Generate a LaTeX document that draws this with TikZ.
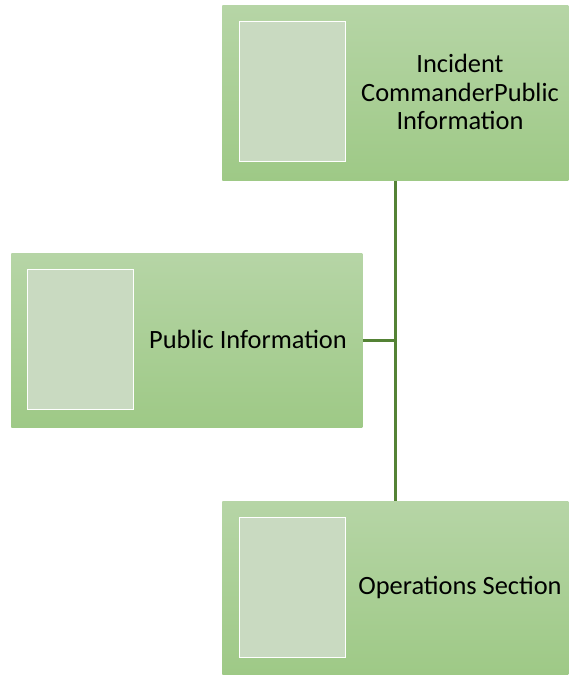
\documentclass[tikz,border=0pt]{standalone}
\usepackage{fontspec}
\setmainfont{Carlito}
\usetikzlibrary{positioning}
\definecolor{boxtop}{RGB}{182,213,166}
\definecolor{boxbot}{RGB}{158,201,134}
\definecolor{picfill}{RGB}{201,218,193}
\definecolor{linkgreen}{RGB}{84,130,53}
\begin{document}
\begin{tikzpicture}[x=0.75pt,y=-0.75pt]
			\tikzstyle{every node}=[font=\fontsize{19.8}{21.5}\selectfont]
			\tikzstyle{unit}=[rectangle, anchor=north west, inner sep=0pt, top color=boxtop, bottom color=boxbot, draw=none, minimum height=130.5pt]
			\tikzstyle{photo}=[rectangle, anchor=north west, inner sep=0pt, fill=picfill, draw=white, line width=1pt, minimum width=79.5pt, minimum height=105pt]
			\tikzstyle{link}=[draw=linkgreen, line width=2pt]
			\useasboundingbox (0,0) rectangle (568,675);
			% boxes
			\node [unit, minimum width=259.5pt, minimum height=131.25pt] (ic) at (222,5) {};
			\node [unit, minimum width=263.25pt] (pi) at (11,253) {};
			\node [unit, minimum width=259.5pt] (ops) at (222,501) {};
			% picture placeholders
			\node [photo] (icpic) at (239,21) {};
			\node [photo] (pipic) at (27,269) {};
			\node [photo] (opspic) at (239,517) {};
			% labels
			\node [align=center] (iclabel) at (460,92) {Incident\\CommanderPublic\\Information};
			\node (pilabel) at (248,339) {Public Information};
			\node (opslabel) at (460,587) {Operations Section};
			% connectors
			\draw [link] (ic.south) -- (ops.north);
			\draw [link] (pi.east) -- (pi.east -| ic.south);
		\end{tikzpicture}
\end{document}
